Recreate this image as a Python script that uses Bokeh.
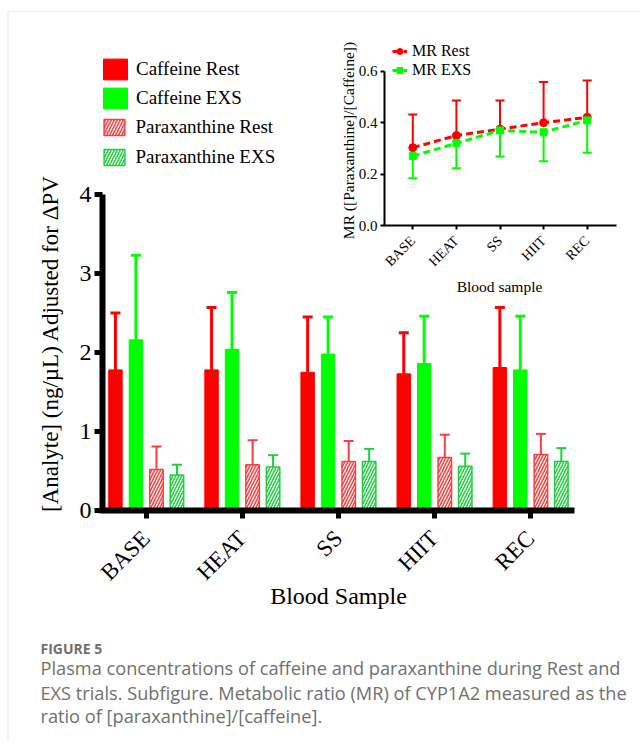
import math
from bokeh.plotting import figure
from bokeh.models import (Range1d, LinearAxis, FixedTicker, ColumnDataSource, Whisker,
                          TeeHead, Legend, LegendItem, Label, BoxAnnotation, NumeralTickFormatter)
from bokeh.embed import file_html
from bokeh.resources import INLINE

# ---------------- data ----------------
categories = ["BASE", "HEAT", "SS", "HIIT", "REC"]
caffeine_rest = [1.78, 1.78, 1.75, 1.73, 1.81]
caffeine_rest_err = [0.72, 0.79, 0.70, 0.52, 0.76]
caffeine_exs = [2.16, 2.04, 1.98, 1.86, 1.78]
caffeine_exs_err = [1.07, 0.72, 0.47, 0.60, 0.68]
paraxanthine_rest = [0.52, 0.58, 0.62, 0.67, 0.71]
paraxanthine_rest_err = [0.29, 0.31, 0.26, 0.29, 0.26]
paraxanthine_exs = [0.45, 0.55, 0.62, 0.56, 0.62]
paraxanthine_exs_err = [0.13, 0.15, 0.16, 0.16, 0.17]
main_y_ticks = [0, 1, 2, 3, 4]

mr_rest = [0.303, 0.350, 0.375, 0.400, 0.421]
mr_rest_err = [0.129, 0.136, 0.111, 0.158, 0.143]
mr_exs = [0.270, 0.320, 0.370, 0.363, 0.409]
mr_exs_err = [0.086, 0.097, 0.102, 0.113, 0.126]
mr_ticks = [0.0, 0.2, 0.4, 0.6]

# ---------------- layout constants ----------------
W, H = 640, 740
OFF = 0  # the page template has no body margin
SERIF = "Liberation Serif"
RED, GREEN = "#ff0000", "#00ff00"
PRED, PGREEN = "#ff3c3c", "#1fd03f"

# main chart: page pixel of category 0 / value 0 and pixels per unit
MX0, MDX = 145.7, 96.1
MY0, MDY = 510.0, 79.0
# inset chart
IX0, IDX = 412.3, 43.6
IY0, IDY = 225.0, 257.0


def xr(px0, dpx):
    s = -(px0 - OFF) / dpx
    return Range1d(s, s + W / dpx)


def yr(py0, dpy):
    s = -(H - (py0 - OFF)) / dpy
    return Range1d(s, s + H / dpy)


def mx(page_x):
    return (page_x - MX0) / MDX


def my(page_y):
    return (MY0 - page_y) / MDY


def ix(page_x):
    return (page_x - IX0) / IDX


p = figure(width=W, height=H, x_range=xr(MX0, MDX), y_range=yr(MY0, MDY),
           x_axis_type=None, y_axis_type=None, toolbar_location=None,
           output_backend="svg", min_border=0, outline_line_color=None,
           background_fill_color="white", border_fill_color="white")
p.extra_x_ranges = {"ix": xr(IX0, IDX)}
p.extra_y_ranges = {"iy": yr(IY0, IDY)}

# card border
p.add_layout(BoxAnnotation(left=mx(7.5), top=my(11), right=mx(900), bottom=my(1000),
                           fill_color=None, fill_alpha=0, line_color="#cdcdcd", line_width=1.5))

# ---------------- main bars ----------------
offsets = [-0.32, -0.107, 0.107, 0.32]
bar_w = 0.14
series = [
    (caffeine_rest, caffeine_rest_err, RED, False, 3),
    (caffeine_exs, caffeine_exs_err, GREEN, False, 3),
    (paraxanthine_rest, paraxanthine_rest_err, PRED, True, 2),
    (paraxanthine_exs, paraxanthine_exs_err, PGREEN, True, 2),
]
bar_renderers = []
for (vals, errs, col, hatched, lw), off in zip(series, offsets):
    src = ColumnDataSource(dict(
        x=[i + off for i in range(len(categories))],
        top=vals,
        upper=[v + e for v, e in zip(vals, errs)],
    ))
    p.add_layout(Whisker(source=src, base="x", upper="upper", lower="top",
                         line_color=col, line_width=lw, level="underlay",
                         upper_head=TeeHead(size=10, line_color=col, line_width=lw),
                         lower_head=None))
    if hatched:
        r = p.vbar(x="x", top="top", bottom=0, width=bar_w, source=src,
                   fill_color="white", line_color=col, line_width=1.5,
                   hatch_pattern="/", hatch_color=col, hatch_scale=6, hatch_weight=1.5)
    else:
        r = p.vbar(x="x", top="top", bottom=0, width=bar_w, source=src,
                   fill_color=col, line_color=col, line_width=1)
    bar_renderers.append(r)

# main axes
xa = LinearAxis(fixed_location=0, bounds=(mx(99), mx(574)),
                ticker=FixedTicker(ticks=list(range(len(categories)))),
                major_label_overrides={i: c for i, c in enumerate(categories)},
                axis_line_width=6, axis_line_color="black",
                major_tick_line_width=5, major_tick_out=8, major_tick_in=0,
                minor_tick_out=0, minor_tick_in=0,
                major_label_orientation=math.pi / 4, major_label_standoff=16,
                major_label_text_font=SERIF, major_label_text_font_size="23px",
                major_label_text_color="black")
p.add_layout(xa, "below")
ya = LinearAxis(fixed_location=mx(102), bounds=(0, 4),
                ticker=FixedTicker(ticks=main_y_ticks),
                axis_line_width=6, axis_line_color="black",
                major_tick_line_width=5, major_tick_out=8, major_tick_in=0,
                minor_tick_out=0, minor_tick_in=0, major_label_standoff=3,
                major_label_text_font=SERIF, major_label_text_font_size="24px",
                major_label_text_color="black")
p.add_layout(ya, "left")

# ---------------- inset ----------------
xs = list(range(len(categories)))
isrc_r = ColumnDataSource(dict(x=xs, y=mr_rest, up=[v + e for v, e in zip(mr_rest, mr_rest_err)]))
isrc_g = ColumnDataSource(dict(x=xs, y=mr_exs, lo=[v - e for v, e in zip(mr_exs, mr_exs_err)]))

p.add_layout(Whisker(source=isrc_r, base="x", upper="up", lower="y",
                     x_range_name="ix", y_range_name="iy",
                     line_color=RED, line_width=2,
                     upper_head=TeeHead(size=9, line_color=RED, line_width=2), lower_head=None))
p.add_layout(Whisker(source=isrc_g, base="x", upper="y", lower="lo",
                     x_range_name="ix", y_range_name="iy",
                     line_color=GREEN, line_width=2,
                     lower_head=TeeHead(size=9, line_color=GREEN, line_width=2), upper_head=None))

lr = p.line("x", "y", source=isrc_r, x_range_name="ix", y_range_name="iy",
            line_color=RED, line_width=3, line_dash="7 4")
sr = p.scatter("x", "y", source=isrc_r, x_range_name="ix", y_range_name="iy",
               marker="circle", size=8, color=RED)
lg = p.line("x", "y", source=isrc_g, x_range_name="ix", y_range_name="iy",
            line_color=GREEN, line_width=3, line_dash="7 4")
sg = p.scatter("x", "y", source=isrc_g, x_range_name="ix", y_range_name="iy",
               marker="square", size=7, color=GREEN)

iya = LinearAxis(x_range_name="ix", y_range_name="iy", fixed_location=ix(384), bounds=(0, 0.6),
                 ticker=FixedTicker(ticks=mr_ticks), formatter=NumeralTickFormatter(format="0.0"),
                 axis_line_width=2, axis_line_color="black",
                 major_tick_line_width=2, major_tick_out=4, major_tick_in=0,
                 minor_tick_out=0, minor_tick_in=0, major_label_standoff=3,
                 major_label_text_font=SERIF, major_label_text_font_size="15px",
                 major_label_text_color="black")
p.add_layout(iya, "left")
ixa = LinearAxis(x_range_name="ix", y_range_name="iy", fixed_location=0,
                 bounds=(ix(383), ix(616)),
                 ticker=FixedTicker(ticks=xs),
                 major_label_overrides={i: c for i, c in enumerate(categories)},
                 axis_line_width=2, axis_line_color="black",
                 major_tick_line_width=2, major_tick_out=4, major_tick_in=0,
                 minor_tick_out=0, minor_tick_in=0,
                 major_label_orientation=math.pi / 4, major_label_standoff=9,
                 major_label_text_font=SERIF, major_label_text_font_size="14px",
                 major_label_text_color="black")
p.add_layout(ixa, "below")

# ---------------- legends ----------------
leg_common = dict(padding=0, margin=0, border_line_color=None, background_fill_alpha=0,
                  label_text_font=SERIF, label_text_color="black")


def legend_loc(page_left, page_bottom):
    return (page_left - OFF, H - (page_bottom - OFF))


leg1 = Legend(items=[LegendItem(label="Caffeine Rest", renderers=[bar_renderers[0]]),
                     LegendItem(label="Caffeine EXS", renderers=[bar_renderers[1]])],
              location=legend_loc(100, 111.4), glyph_width=30, glyph_height=26, spacing=3,
              label_standoff=6, label_text_font_size="19px", **leg_common)
leg2 = Legend(items=[LegendItem(label="Paraxanthine Rest", renderers=[bar_renderers[2]]),
                     LegendItem(label="Paraxanthine EXS", renderers=[bar_renderers[3]])],
              location=legend_loc(101.4, 167.9), glyph_width=26, glyph_height=20, spacing=8,
              label_standoff=8, label_text_font_size="19px", **leg_common)
leg3 = Legend(items=[LegendItem(label="MR Rest", renderers=[lr, sr]),
                     LegendItem(label="MR EXS", renderers=[lg, sg])],
              location=legend_loc(392, 79), glyph_width=15, glyph_height=18, spacing=1,
              label_standoff=5, label_text_font_size="16px", **leg_common)
for lg_ in (leg1, leg2, leg3):
    p.add_layout(lg_)


# ---------------- titles & caption ----------------
def lab(text, px, py, size, font=SERIF, angle=0.0, color="black", align="center", style="normal"):
    p.add_layout(Label(x=px - OFF, y=H - (py - OFF), x_units="screen", y_units="screen",
                       text=text, angle=angle, text_align=align, text_baseline="middle",
                       text_font=font, text_font_size=size, text_color=color,
                       text_font_style=style))


lab("[Analyte] (ng/µL) Adjusted for ΔPV", 50, 343, "23px", angle=math.pi / 2)
lab("Blood Sample", 338, 595, "24px")
lab("MR ([Paraxanthine]/[Caffeine])", 348, 140, "15.5px", angle=math.pi / 2)
lab("Blood sample", 499, 286, "15.5px")

CAP = "Open Sans"
lab("FIGURE 5", 40, 648, "14px", font=CAP, color="#707070", align="left", style="bold")
lab("Plasma concentrations of caffeine and paraxanthine during Rest and", 40, 667, "18.2px",
    font=CAP, color="#707070", align="left")
lab("EXS trials. Subfigure. Metabolic ratio (MR) of CYP1A2 measured as the", 40, 692, "18.2px",
    font=CAP, color="#707070", align="left")
lab("ratio of [paraxanthine]/[caffeine].", 40, 715, "18.2px",
    font=CAP, color="#707070", align="left")

open("out.html", "w").write(file_html(p, INLINE))
